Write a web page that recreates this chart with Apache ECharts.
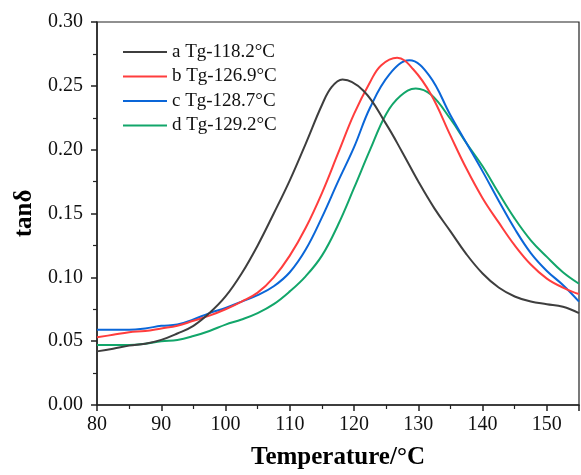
<!DOCTYPE html>
<html>
<head>
<meta charset="utf-8">
<script src="https://cdn.jsdelivr.net/npm/echarts@6/dist/echarts.min.js"></script>
<style>
html,body{margin:0;padding:0;background:#fff;}
#chart{width:581px;height:475px;}
</style>
</head>
<body>
<div id="chart"></div>
<script>
var tempsA = [80,82.5,85,87.5,90,92.5,95,97.5,100,102.5,105,107.5,110,112.5,115,116.5,118.2,121.5,125,127.5,130,132.5,135,137.5,140,142.5,145,147.5,150,152.5,155];
var valsA  = [0.042,0.044,0.0465,0.048,0.051,0.056,0.062,0.072,0.085,0.103,0.125,0.150,0.176,0.205,0.235,0.249,0.255,0.246,0.220,0.198,0.175,0.154,0.136,0.118,0.103,0.092,0.085,0.081,0.079,0.077,0.072];
var tempsB = [80,82.5,85,87.5,90,92.5,95,97.5,100,102.5,105,107.5,110,112.5,115,117.5,120,122.5,124.2,126.7,129.2,132,135,137.5,140,142.5,145,147.5,150,152.5,155];
var valsB  = [0.053,0.055,0.057,0.058,0.060,0.062,0.066,0.070,0.075,0.081,0.088,0.100,0.117,0.139,0.166,0.197,0.228,0.253,0.266,0.272,0.263,0.243,0.211,0.185,0.162,0.143,0.125,0.110,0.099,0.092,0.087];
var tempsC = [80,82.5,85,87.5,90,92.5,95,97.5,100,102.5,105,107.5,110,112.5,115,117.5,120,122.5,125.5,128.6,131.7,135,137.5,140,142.5,145,147.5,150,152.5,155];
var valsC  = [0.059,0.059,0.059,0.060,0.062,0.063,0.067,0.072,0.076,0.081,0.086,0.093,0.104,0.122,0.147,0.175,0.202,0.233,0.259,0.270,0.258,0.227,0.205,0.183,0.160,0.138,0.119,0.105,0.094,0.081];
var tempsD = [80,82.5,85,87.5,90,92.5,95,97.5,100,102.5,105,107.5,110,112.5,115,117.5,120,122.5,125,127.2,129.6,132,135,137.5,140,142.5,145,147.5,150,152.5,155];
var valsD  = [0.047,0.047,0.047,0.048,0.050,0.051,0.054,0.058,0.063,0.067,0.072,0.079,0.089,0.101,0.117,0.141,0.170,0.200,0.228,0.242,0.248,0.243,0.224,0.205,0.187,0.166,0.146,0.129,0.116,0.104,0.095];
var seriesNames = ['a Tg-118.2\u00B0C','b Tg-126.9\u00B0C','c Tg-128.7\u00B0C','d Tg-129.2\u00B0C'];
var seriesColors = ['#3e3e3e','#ff3d3d','#0a66d8','#12a66a'];
var xTicks = [80,90,100,110,120,130,140,150];
var yTicks = [0,0.05,0.10,0.15,0.20,0.25,0.30];

function pairs(ts, vals){ return ts.map(function(t,i){ return [t, vals[i]]; }); }
var allData = [pairs(tempsA,valsA), pairs(tempsB,valsB), pairs(tempsC,valsC), pairs(tempsD,valsD)];

var chart = echarts.init(document.getElementById('chart'));
var font = '"Liberation Serif","Times New Roman",serif';
chart.setOption({
  animation:false,
  backgroundColor:'#fff',
  grid:{left:97,right:2,top:22,bottom:65,show:true,borderColor:'#222',borderWidth:1.2,backgroundColor:'transparent'},
  legend:{
    orient:'vertical', left:123, top:42, padding:0, itemWidth:44, itemHeight:2, icon:'rect', itemGap:4.5,
    data:seriesNames,
    textStyle:{fontFamily:font,fontSize:19,color:'#111',lineHeight:20}
  },
  xAxis:{
    type:'value', min:80, max:155, interval:10,
    name:'Temperature/\u00B0C', nameLocation:'middle', nameGap:40,
    nameTextStyle:{fontFamily:font,fontSize:25,fontWeight:'bold',color:'#000'},
    axisLine:{show:true,lineStyle:{color:'#222',width:1.5}},
    axisTick:{show:true,inside:false,length:6,lineStyle:{color:'#222',width:1.5}},
    minorTick:{show:true,splitNumber:2,length:4,lineStyle:{color:'#222',width:1.2}},
    splitLine:{show:false},
    axisLabel:{fontFamily:font,fontSize:20,color:'#111',margin:10,showMaxLabel:false,
      formatter:function(v){ return xTicks.indexOf(v)>=0 ? String(v) : ''; }}
  },
  yAxis:{
    type:'value', min:0, max:0.30, interval:0.05,
    name:'tan\u03B4', nameLocation:'middle', nameGap:58,
    nameTextStyle:{fontFamily:font,fontSize:25,fontWeight:'bold',color:'#000'},
    axisLine:{show:true,lineStyle:{color:'#222',width:1.5}},
    axisTick:{show:true,inside:false,length:6,lineStyle:{color:'#222',width:1.5}},
    minorTick:{show:true,splitNumber:2,length:4,lineStyle:{color:'#222',width:1.2}},
    splitLine:{show:false},
    axisLabel:{fontFamily:font,fontSize:20,color:'#111',margin:14,
      formatter:function(v){ var t=yTicks.filter(function(y){return Math.abs(y-v)<1e-9;}); return t.length? v.toFixed(2):''; }}
  },
  series: allData.map(function(d,i){
    return {type:'line', name:seriesNames[i], data:d, smooth:0.4, symbol:'none',
      lineStyle:{color:seriesColors[i],width:2}, itemStyle:{color:seriesColors[i]}, z:10-i};
  })
});
</script>
</body>
</html>
